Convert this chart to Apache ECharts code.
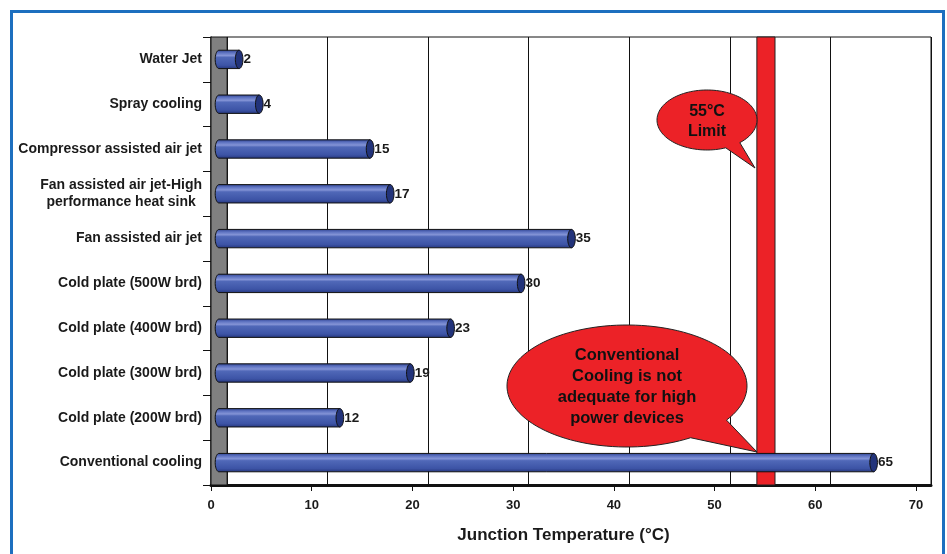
<!DOCTYPE html>
<html><head><meta charset="utf-8">
<script src="https://cdn.jsdelivr.net/npm/echarts@6/dist/echarts.min.js"></script>
<style>html,body{margin:0;padding:0;background:#fff}#c{width:947px;height:554px}</style>
</head><body><div id="c"></div><script>
// ---- data ----
const categories = [
  'Water Jet',
  'Spray cooling',
  'Compressor assisted air jet',
  'Fan assisted air jet-High\nperformance heat sink',
  'Fan assisted air jet',
  'Cold plate (500W brd)',
  'Cold plate (400W brd)',
  'Cold plate (300W brd)',
  'Cold plate (200W brd)',
  'Conventional cooling'
];
const temps = [2, 4, 15, 17, 35, 30, 23, 19, 12, 65];
const xMin = 0, xMax = 70, xStep = 10;
const limitBand = [54.2, 56.0];   // 55°C limit band
const wallBand = [0, 1.6];        // grey side wall
const limitText = ['55°C', 'Limit'];
const noteText = ['Conventional', 'Cooling is not', 'adequate for high', 'power devices'];
const xName = 'Junction Temperature (°C)';

const FONT = 'Arial, "Liberation Sans", Helvetica, sans-serif';
const chart = echarts.init(document.getElementById('c'), null, {renderer: 'canvas'});

function calloutPoints(cx, cy, rx, ry, a1, a2, tip) {
  const pts = [];
  for (let a = a2; a <= a1 + 360 + 0.001; a += 3) {
    const r = a * Math.PI / 180;
    pts.push([cx + rx * Math.cos(r), cy + ry * Math.sin(r)]);
  }
  const r1 = (a1 + 360) * Math.PI / 180;
  pts.push([cx + rx * Math.cos(r1), cy + ry * Math.sin(r1)]);
  pts.push(tip);
  return pts;
}

function renderCylinder(params, api) {
  const v = api.value(0), ci = api.value(1);
  const s = api.coord([0, ci]);
  const e = api.coord([v, ci]);
  const h = api.size([0, 1])[1] * 0.41;
  const rx = 3.8, cy = s[1], top = cy - h / 2, bot = cy + h / 2;
  const body = [[s[0], top], [e[0], top], [e[0], bot], [s[0], bot]];
  for (let a = 90; a <= 270; a += 10) {
    const r = a * Math.PI / 180;
    body.push([s[0] + rx * Math.cos(r), cy + (h / 2) * Math.sin(r)]);
  }
  const cap = [];
  for (let a = 0; a < 360; a += 10) {
    const r = a * Math.PI / 180;
    cap.push([e[0] + rx * Math.cos(r), cy + (h / 2) * Math.sin(r)]);
  }
  return {
    type: 'group',
    children: [
      {type: 'polygon', shape: {points: body}, style: {
        fill: new echarts.graphic.LinearGradient(0, 0, 0, 1, [
          {offset: 0, color: '#2b3f8e'},
          {offset: 0.16, color: '#5f74c2'},
          {offset: 0.3, color: '#8494d6'},
          {offset: 0.4, color: '#5068b8'},
          {offset: 0.8, color: '#3d54a6'},
          {offset: 1, color: '#24357c'}
        ]), stroke: '#111', lineWidth: 1}},
      {type: 'polygon', shape: {points: cap}, style: {fill: '#22337a', stroke: '#111', lineWidth: 1}},
      {type: 'text', x: e[0] + rx + 0.5, y: cy, style: {
        text: String(v), fill: '#1a1a1a', font: 'bold 13.5px ' + FONT,
        textAlign: 'left', textVerticalAlign: 'middle'}}
    ]
  };
}

const option = {
  backgroundColor: '#fff',
  animation: false,
  grid: [
    {left: 211, right: 31, top: 37, bottom: 69},
    {left: 227, right: 16, top: 37, bottom: 69, show: true, borderColor: '#111', borderWidth: 1, backgroundColor: '#fff'},
    {left: 219, right: 23, top: 37, bottom: 69}
  ],
  xAxis: [
    {gridIndex: 0, type: 'value', min: xMin, max: xMax, interval: xStep,
      axisLine: {show: true, lineStyle: {color: '#111', width: 3}},
      axisTick: {show: true, length: 6, lineStyle: {color: '#111', width: 1}},
      axisLabel: {color: '#1a1a1a', fontWeight: 'bold', fontSize: 13, fontFamily: FONT, margin: 14},
      splitLine: {show: false},
      name: xName, nameLocation: 'middle', nameGap: 42,
      nameTextStyle: {color: '#1a1a1a', fontWeight: 'bold', fontSize: 17, fontFamily: FONT}},
    {gridIndex: 1, type: 'value', min: xMin, max: xMax, interval: xStep,
      axisLine: {show: true, lineStyle: {color: '#111', width: 3}},
      axisTick: {show: false}, axisLabel: {show: false},
      splitLine: {show: true, lineStyle: {color: '#111', width: 1}}},
    {gridIndex: 2, type: 'value', min: xMin, max: xMax, show: false}
  ],
  yAxis: [
    {gridIndex: 0, type: 'category', inverse: true, data: categories,
      axisLine: {show: true, lineStyle: {color: '#111', width: 1.5}},
      axisTick: {show: true, length: 8, lineStyle: {color: '#111'}},
      axisLabel: {color: '#1a1a1a', fontWeight: 'bold', fontSize: 14, fontFamily: FONT, margin: 9,
        formatter: v => v.split('\n').map(l => '{a|' + l + '}').join('\n'),
        rich: {a: {align: 'center', fontWeight: 'bold', fontSize: 14, fontFamily: FONT, color: '#1a1a1a', lineHeight: 17}}},
      splitLine: {show: false}},
    {gridIndex: 1, type: 'category', inverse: true, data: categories, show: false},
    {gridIndex: 2, type: 'category', inverse: true, data: categories, show: false}
  ],
  series: [
    {type: 'line', xAxisIndex: 0, yAxisIndex: 0, data: [], z: 1, silent: true,
      markArea: {silent: true, itemStyle: {color: '#808080', borderColor: '#111', borderWidth: 1},
        data: [[{xAxis: wallBand[0]}, {xAxis: wallBand[1]}]]}},
    {type: 'custom', xAxisIndex: 2, yAxisIndex: 2, z: 3,
      data: temps.map((v, i) => [v, i]),
      encode: {x: 0, y: 1},
      renderItem: renderCylinder},
    {type: 'line', xAxisIndex: 0, yAxisIndex: 0, data: [], z: 6, silent: true,
      markArea: {silent: true, itemStyle: {color: '#ec2227', borderColor: '#222', borderWidth: 1},
        data: [[{xAxis: limitBand[0]}, {xAxis: limitBand[1]}]]}}
  ],
  graphic: [
    {type: 'rect', z: 0, shape: {x: 11.5, y: 11.5, width: 932, height: 560},
      style: {fill: 'none', stroke: '#1d6fbf', lineWidth: 3}},
    {type: 'polygon', z: 100, shape: {points: calloutPoints(707, 120, 50, 30, 49, 68, [755, 168])},
      style: {fill: '#ec2227', stroke: '#222', lineWidth: 1}},
    {type: 'text', z: 101, x: 707, y: 112, style: {text: limitText[0], font: 'bold 16px ' + FONT, fill: '#111', textAlign: 'center', textVerticalAlign: 'middle'}},
    {type: 'text', z: 101, x: 707, y: 132, style: {text: limitText[1], font: 'bold 16px ' + FONT, fill: '#111', textAlign: 'center', textVerticalAlign: 'middle'}},
    {type: 'polygon', z: 100, shape: {points: calloutPoints(627, 386, 120, 61, 34, 58, [757, 452])},
      style: {fill: '#ec2227', stroke: '#222', lineWidth: 1}}
  ].concat(noteText.map((t, i) => ({type: 'text', z: 101, x: 627, y: 355 + i * 21,
    style: {text: t, font: 'bold 16.5px ' + FONT, fill: '#111', textAlign: 'center', textVerticalAlign: 'middle'}})))
};
chart.setOption(option);
</script></body></html>
